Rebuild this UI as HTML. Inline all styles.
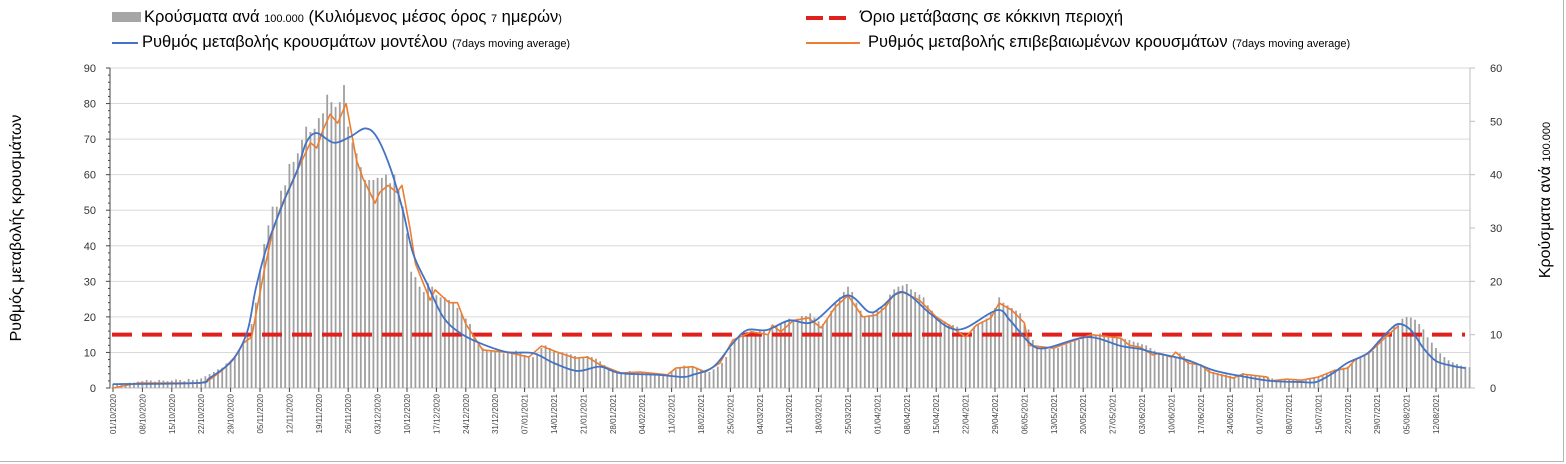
<!DOCTYPE html>
<html><head><meta charset="utf-8">
<style>
html,body{margin:0;padding:0;background:#fff;}
body{width:1566px;height:464px;overflow:hidden;position:relative;font-family:"Liberation Sans",sans-serif;}
#frame{position:absolute;left:0;top:0;width:1563px;height:461px;border:1px solid #b5b5b5;border-left:none;border-top:none;}
.lg{font-size:16.5px;color:#000;}
.sm{font-size:11px;}
</style></head>
<body>
<div id="frame"></div>
<svg id="chart" width="1566" height="464" style="position:absolute;left:0;top:0" font-family="Liberation Sans, sans-serif">
</svg>
<script>
// ---- data (day index from 01/10/2020) ----
const tickLabels = ["01/10/2020","08/10/2020","15/10/2020","22/10/2020","29/10/2020","05/11/2020","12/11/2020","19/11/2020","26/11/2020","03/12/2020","10/12/2020","17/12/2020","24/12/2020","31/12/2020","07/01/2021","14/01/2021","21/01/2021","28/01/2021","04/02/2021","11/02/2021","18/02/2021","25/02/2021","04/03/2021","11/03/2021","18/03/2021","25/03/2021","01/04/2021","08/04/2021","15/04/2021","22/04/2021","29/04/2021","06/05/2021","13/05/2021","20/05/2021","27/05/2021","03/06/2021","10/06/2021","17/06/2021","24/06/2021","01/07/2021","08/07/2021","15/07/2021","22/07/2021","29/07/2021","05/08/2021","12/08/2021"];
const leftTicks = [0,10,20,30,40,50,60,70,80,90];
const rightTicks = [0,10,20,30,40,50,60];
const thresholdValue = 15;
// cases per 100.000 (right axis), daily
const barValues = [
0.8,0.8,0.9,0.9,1,1,1.2, 1.3,1.5,1.4,1.2,1.5,1.4,1.3, 1.4,1.6,1.5,1.3,1.7,1.5,1.6,
1.8,2.2,2.6,3.0,3.5,3.8,4.6, 5,6,7,8.5,10,12,16, 22,27,30.5,34,34,37,38,
42,42.4,44,46.5,49,48,48.6, 50.6,51.5,55,53.6,52.7,53.6,56.8, 49,46,44,41.4,39,39,39,
39.4,39.4,40,38.4,40,37,34, 29,21.8,20.8,19,18,19.7,19, 17.4,17,17,16.5,16,15,14,
13,12,10,8.5,7.5,7,7, 6.8,7.2,6.5,6.8,6.7,7,6.5, 6.2,6,5.8,6.5,7.5,8,7.5,
7,6.8,6.7,6.5,6.3,6,5.6, 5.8,6,5.8,5.5,5,4.3,3.8, 3.3,3,2.8,3,3.2,3,3.1,
3,3,2.8,2.7,2.6,2.5,2.5, 3,3.5,3.7,4.2,4,4,3.8, 3.5,3.2,3,3.5,4,4.7,5.8,
7.5,9,9.5,10,10.5,10.7,10.5, 11,10.8,10,11,11.8,12,12.5, 13,12.8,13,13.5,13.5,14,13.2,
12.5,12,13,14.5,16,17,18, 19,18,16,14.5,13.5,13.5,14, 14.5,15,16,17.5,18.5,19,19.2,
19.5,18.5,18,17.5,17,15.5,14.5, 13.5,13,12.5,12,11.8,11.5,10.5, 9.8,10.5,11.5,12,12.5,13,14,
15,17,16,15.5,15,14.5,14, 12,11,9,8,7.5,7.5,7.3, 7.5,7.5,7.8,8.2,8.5,8.8,9,
9.3,9.6,9.8,10,10.2,10,9.8, 9.5,9.5,9.3,9.2,9,8.7,8.5, 8.2,8,7.5,7,6.5,6.5,6.2,
6,5.8,6.5,6,5,4.7,4.5, 4.3,4,3.5,3,2.8,2.6,2.5, 2.3,2,2.2,2.8,2.6,2.5,2.4,
2.3,2.2,2.1,1.8,1.6,1.6,1.7, 1.7,1.6,1.5,1.5,1.6,1.7,1.9, 2.1,2.4,2.8,3.2,3.5,3.7,3.8,
4,4.5,5.3,5.7,6,6.5,7, 8,9,9.5,10.5,11.5,12.2,13, 13.3,13.2,12.8,12,11,9.5,8.5,
7.5,6.5,5.8,5.2,4.8,4.5,4.2, 4,3.9
];
// model rate (left axis)
const blueDays = [0,20,23,28.5,32,34,36.7,40.5,43.8,46,48.5,52.5,56.4,60,62.8,66,69,71.4,74.7,78.6,82.6,87.4,93.8,100,105,110.5,116,120.7,130,135.7,138,143,147.6,151,155.7,161,166.7,174.6,180,183,188,194.5,199,203,210.5,213.6,218.3,222,232,240,244.5,247.6,255.6,262,268.3,275.5,282.6,286.5,290.5,293.8,298.5,301,303.3,306,309,312,315,319,322];
const blueValues = [1.1,1.4,2.8,7.9,16,28,40,52,61,69,71.7,69,70.6,73,70.6,62,50,38,29.5,20,15.5,12.6,10.1,9.8,7,4.8,6,4.2,3.7,3.1,3.7,6,12.6,16.3,16.3,19,18.6,26,21.4,22.8,27,21,17,16.9,21.9,19,12.6,11.2,14.3,11.8,11,10,7.9,5,3.4,2,1.7,1.7,4.2,7,9.6,12.6,15.5,18,16.3,11.2,7.6,6.2,5.6];
// confirmed rate (left axis)
const orangeDays = [0,6,21,23,26,29,31,33,36,38,40,43,45,47,48.5,50,51.7,53.5,55.5,58,59.5,62.4,63.5,65.5,67.6,68.8,70.7,72,75.5,76.7,80,82,84,88,94,99,102,106,110,113,116,121,125.5,132,134,138,141,144.5,147.6,152,156,157,159,162,165.6,168.6,172,175,178.5,181.7,184,185.7,188,192,196,199,203,205.6,209,211,214,217,218,224,228,233,240,242,244.5,247.6,249,252,253,256,259,261,266.7,269,274.7,275.5,279.5,283,287,290.5,294,295.7,299,303,306];
const orangeValues = [0,1.4,1.4,2.3,5,8.7,12.6,14.3,33,44,51,59,64,69,67.5,72.6,77,74.5,80,64,59,52,55,57,55,57,45,35,24.7,27.6,24,24,18,10.7,10,8.7,11.8,10,8.4,8.7,6.5,4.2,4.5,3.7,5.6,6,4.5,7,13.5,15.8,15,17.7,15.8,19,19.7,16.9,22.8,26,20,20.5,22.8,26,27,24.7,20,17.7,14.3,17.7,19.7,23.9,21.9,18.3,12,11.2,13,15,14,12,11.5,9.3,9.8,8.7,10.1,7,6.5,4.5,2.8,3.9,3.1,2,2.5,2.2,3.1,4.8,5.6,7.9,9.8,14.3,17.4];

// ---- layout ----
const NS = "http://www.w3.org/2000/svg";
const svg = document.getElementById('chart');
const X0 = 113, DAYPX = 29.4/7, YTOP = 68, YBOT = 388, PLOT_L = 110, PLOT_R = 1470;
const xDay = d => X0 + d*DAYPX;
const yLeft = v => YBOT - v*(YBOT-YTOP)/90;
const yRight = v => YBOT - v*(YBOT-YTOP)/60;
function mk(tag, attrs, parent){const e=document.createElementNS(NS,tag);for(const k in attrs)e.setAttribute(k,attrs[k]);(parent||svg).appendChild(e);return e;}

// gridlines
leftTicks.forEach(t=>{
  if(t===0) return;
  const g = mk('line',{x1:PLOT_L,x2:PLOT_R,y1:yLeft(t),y2:yLeft(t),stroke:'#d9d9d9','stroke-width':1});
  
  
});
// left axis labels & ticks
leftTicks.forEach(t=>{
  const tx = mk('text',{x:96,y:yLeft(t)+4,'text-anchor':'end','font-size':11,fill:'#333'});
  tx.textContent=t;
  
  
  mk('line',{x1:PLOT_L-4,x2:PLOT_L,y1:yLeft(t),y2:yLeft(t),stroke:'#444','stroke-width':1});
  if(t<90) for(let m=1;m<5;m++){const yy=yLeft(t+m*2);mk('line',{x1:PLOT_L-2,x2:PLOT_L,y1:yy,y2:yy,stroke:'#444','stroke-width':1});}
});
const la = mk('line',{x1:PLOT_L,x2:PLOT_L,y1:YTOP,y2:YBOT,stroke:'#444','stroke-width':1});


// right axis
const ra = mk('line',{x1:PLOT_R,x2:PLOT_R,y1:YTOP,y2:YBOT,stroke:'#bfbfbf','stroke-width':1});


rightTicks.forEach(t=>{
  mk('line',{x1:PLOT_R,x2:PLOT_R+5,y1:yRight(t),y2:yRight(t),stroke:'#bfbfbf','stroke-width':1});
  const tx = mk('text',{x:1490,y:yRight(t)+4,'font-size':11,fill:'#333'});
  tx.textContent=t;
  
  
});
// x axis
const xa = mk('line',{x1:PLOT_L,x2:PLOT_R,y1:YBOT,y2:YBOT,stroke:'#bfbfbf','stroke-width':1});


tickLabels.forEach((lab,i)=>{
  const x = xDay(i*7);
  mk('line',{x1:x,x2:x,y1:YBOT,y2:YBOT+4,stroke:'#444','stroke-width':1});
  const tx = mk('text',{x:0,y:0,'font-size':8,fill:'#444','text-anchor':'end',transform:`translate(${x+3},${YBOT+6}) rotate(-90)`});
  tx.textContent=lab;
  
  
});
// bars
barValues.forEach((v,d)=>{
  const x = xDay(d);
  const b = mk('rect',{x:x-0.9,y:yRight(v),width:1.8,height:YBOT-yRight(v),fill:'#a0a0a0'});
  
  
});
// threshold line
const th = mk('line',{x1:PLOT_L+2,x2:PLOT_R-5,y1:yLeft(thresholdValue),y2:yLeft(thresholdValue),stroke:'#e0201c','stroke-width':4,'stroke-dasharray':'20 10'});


// orange line (polyline)
const op = mk('polyline',{points:orangeDays.map((d,i)=>xDay(d)+','+yLeft(orangeValues[i])).join(' '),fill:'none',stroke:'#ed7d31','stroke-width':1.6,'stroke-linejoin':'round'});


// blue smooth line
(function(){
  const P = blueDays.map((d,i)=>[xDay(d),yLeft(blueValues[i])]);
  let s = `M${P[0][0]},${P[0][1]}`;
  for(let i=0;i<P.length-1;i++){
    const p0=P[Math.max(0,i-1)],p1=P[i],p2=P[i+1],p3=P[Math.min(P.length-1,i+2)];
    const c1=[p1[0]+(p2[0]-p0[0])/6,p1[1]+(p2[1]-p0[1])/6];
    const c2=[p2[0]-(p3[0]-p1[0])/6,p2[1]-(p3[1]-p1[1])/6];
    s+=` C${c1[0]},${c1[1]} ${c2[0]},${c2[1]} ${p2[0]},${p2[1]}`;
  }
  const bp = mk('path',{d:s,fill:'none',stroke:'#4472c4','stroke-width':1.8});
  
  
})();
</script>
<!-- legend & titles -->
<div style="position:absolute;left:112px;top:8px;height:20px;white-space:nowrap;">
  <span style="display:inline-block;width:29px;height:10px;background:#a6a6a6;vertical-align:middle;margin-right:3px;position:relative;top:-1px"></span><span class="lg">Κρούσματα ανά <span class="sm">100.000</span> (Κυλιόμενος μέσος όρος <span class="sm">7</span> ημερών<span class="sm">)</span></span>
</div>
<div style="position:absolute;left:112px;top:33px;height:20px;white-space:nowrap;">
  <span style="display:inline-block;width:26px;height:2px;background:#4472c4;vertical-align:middle;margin-right:4px"></span><span class="lg">Ρυθμός μεταβολής κρουσμάτων μοντέλου <span class="sm">(7days moving average)</span></span>
</div>
<div style="position:absolute;left:806px;top:8px;height:20px;white-space:nowrap;">
  <span style="display:inline-block;width:17px;height:4px;background:#e0201c;vertical-align:middle;margin-right:6px"></span><span style="display:inline-block;width:17px;height:4px;background:#e0201c;vertical-align:middle;margin-right:14px"></span><span class="lg">Όριο μετάβασης σε κόκκινη περιοχή</span>
</div>
<div style="position:absolute;left:806px;top:33px;height:20px;white-space:nowrap;">
  <span style="display:inline-block;width:54px;height:2px;background:#ed7d31;vertical-align:middle;margin-right:8px"></span><span class="lg">Ρυθμός μεταβολής επιβεβαιωμένων κρουσμάτων <span class="sm">(7days moving average)</span></span>
</div>
<div style="position:absolute;left:17px;top:228px;transform:translate(-50%,-50%) rotate(-90deg);font-size:16px;white-space:nowrap;color:#000">Ρυθμός μεταβολής κρουσμάτων</div>
<div style="position:absolute;left:1546px;top:200px;transform:translate(-50%,-50%) rotate(-90deg);font-size:16px;white-space:nowrap;color:#000">Κρούσματα ανά <span style="font-size:11px">100.000</span></div>
</body></html>
